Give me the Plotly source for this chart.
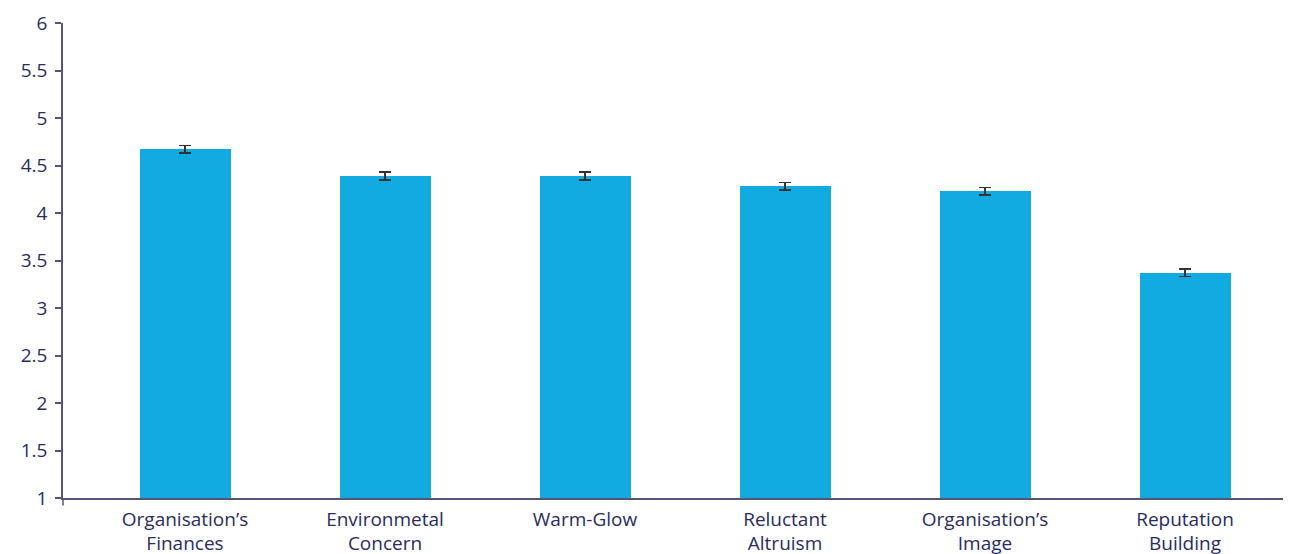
import plotly.graph_objects as go

categories = ["Organisation’s<br>Finances", "Environmetal<br>Concern", "Warm-Glow",
              "Reluctant<br>Altruism", "Organisation’s<br>Image", "Reputation<br>Building"]
means = [4.67, 4.39, 4.39, 4.28, 4.23, 3.37]
errors = [0.04, 0.04, 0.04, 0.04, 0.04, 0.04]
y_ticks = [1, 1.5, 2, 2.5, 3, 3.5, 4, 4.5, 5, 5.5, 6]

navy = "#2b2c5e"
font_family = "'Open Sans', sans-serif"

fig = go.Figure(go.Bar(
    x=list(range(len(categories))),
    y=[m - 1 for m in means],
    base=1,
    width=0.455,
    marker=dict(color="#12abe1", line=dict(width=0)),
    error_y=dict(type="data", array=errors, color="#333333", thickness=1.5, width=6),
    hoverinfo="skip",
))

fig.update_layout(
    width=1283, height=546,
    margin=dict(l=55, r=0, t=15, b=56),
    plot_bgcolor="white", paper_bgcolor="white",
    showlegend=False,
    font=dict(family=font_family, color=navy, size=19),
    bargap=0,
)
fig.update_xaxes(
    range=[-0.61, 5.53],
    tickvals=list(range(len(categories))),
    ticktext=categories,
    showgrid=False, zeroline=False,
    showline=True, linecolor="#55557a", linewidth=1.5,
    ticks="", tickfont=dict(size=19, color=navy),
    ticklabelstandoff=3,
    automargin=False,
)
fig.update_yaxes(
    range=[1, 6],
    tickvals=y_ticks,
    ticktext=[f"{v:g}" for v in y_ticks],
    showgrid=False, zeroline=False,
    showline=True, linecolor="#55557a", linewidth=1.5,
    ticks="outside", ticklen=6, tickcolor="#55557a", tickwidth=1.5,
    tickfont=dict(size=19, color=navy),
    ticklabelstandoff=4,
    automargin=False,
)
# small downward extension of the y axis below the x axis
fig.add_shape(type="line", xref="paper", yref="paper", x0=0, x1=0, y0=0, y1=-0.016,
              line=dict(color="#55557a", width=1.5))

fig.write_html("out.html")
